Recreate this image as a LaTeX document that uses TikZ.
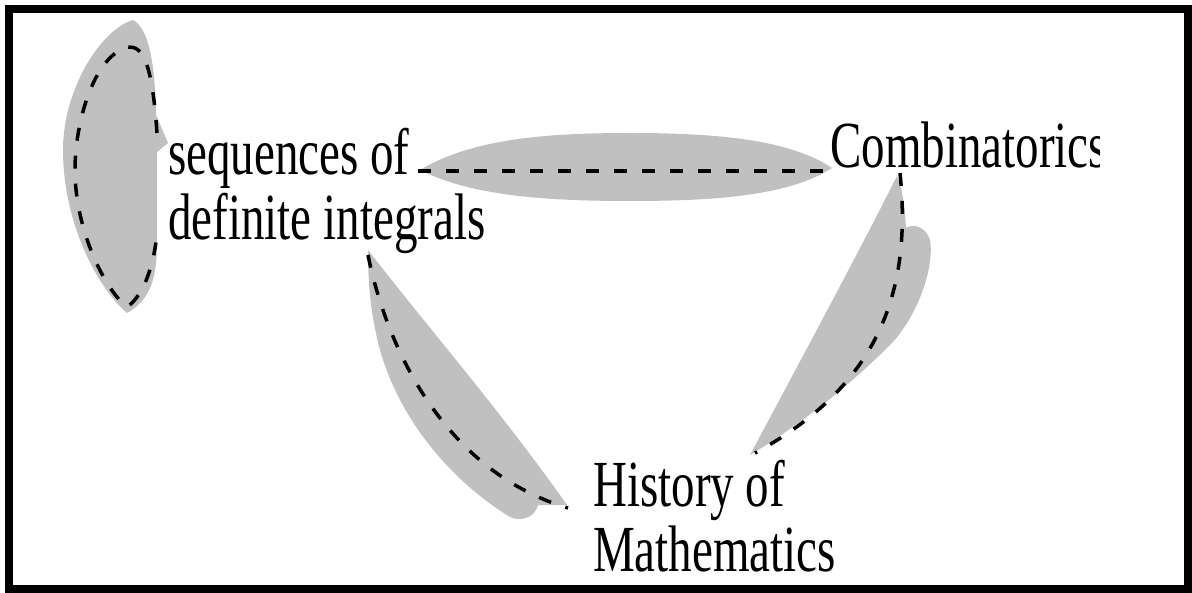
\documentclass[tikz,border=0pt]{standalone}
\usepackage{fontspec}
\setmainfont{Liberation Serif}
\usepackage{graphicx}
\definecolor{blobgray}{RGB}{192,192,192}
\tikzset{
  lbl/.style={inner sep=0pt, anchor=base west, font=\fontsize{47}{44}\selectfont},
  link/.style={line width=3.5pt, dash pattern=on 13pt off 15pt, line cap=butt},
  blob/.style={fill=blobgray, draw=none},
  frame/.style={line width=8pt, draw=black},
}
\newcommand{\stretchedtext}[1]{\scalebox{1}[1.4]{\begin{tabular}[t]{@{}l@{}}#1\end{tabular}}}
\begin{document}
\begin{tikzpicture}[x=1pt,y=-1pt]
\useasboundingbox (0,0) rectangle (1192,593);
\fill[white] (0,0) rectangle (1192,593);

% gray blobs
\fill[blob] (133,20) .. controls (100,30) and (63,90) .. (63,150)
  .. controls (63,220) and (95,285) .. (127,313)
  .. controls (150,300) and (157,280) .. (157,240) -- (157,152) -- (168,143) -- (156,115)
  .. controls (155,60) and (148,28) .. (133,20) -- cycle;
\fill[blob] (420,170) .. controls (470,140) and (540,133) .. (630,133)
  .. controls (720,133) and (790,140) .. (832,168)
  .. controls (790,195) and (720,201) .. (630,201)
  .. controls (540,201) and (470,195) .. (420,170) -- cycle;
\fill[blob] (368,250) .. controls (430,330) and (500,410) .. (567,505)
  -- (538,505) .. controls (535,518) and (520,522) .. (510,517)
  .. controls (450,480) and (400,420) .. (380,350)
  .. controls (372,320) and (368,290) .. (368,250) -- cycle;
\fill[blob] (897,176) .. controls (903,190) and (905,210) .. (906,228)
  .. controls (912,224) and (925,225) .. (930,240)
  .. controls (935,270) and (915,320) .. (890,345)
  .. controls (850,385) and (800,425) .. (750,455)
  .. controls (790,380) and (860,250) .. (897,176) -- cycle;

% labels
\node[lbl] (seq) at (168,175) {\stretchedtext{sequences of\\definite integrals}};
\begin{scope}
  \clip (0,0) rectangle (1099,593);
  \node[lbl] (comb) at (830,168) {\stretchedtext{Combinatorics}};
\end{scope}
\node[lbl] (hist) at (593,507) {\stretchedtext{History of\\Mathematics}};

% connector end points
\coordinate (seqLoopOut) at (157,133);
\coordinate (seqLoopIn) at (157,232);
\coordinate (seqRight) at (418,171);
\coordinate (seqBelow) at (368,255);
\coordinate (combLeft) at (830,171);
\coordinate (combBelow) at (900,173);
\coordinate (histLeft) at (568,508);
\coordinate (histAbove) at (755,453);

% dashed connectors
\draw[link] (seqLoopOut) .. controls (152,60) and (142,46) .. (128,47)
  .. controls (95,55) and (75,120) .. (75,170)
  .. controls (75,230) and (105,290) .. (127,307)
  .. controls (145,295) and (155,260) .. (seqLoopIn);
\draw[link] (seqRight) -- (combLeft);
\draw[link] (seqBelow) .. controls (385,340) and (440,470) .. (histLeft);
\draw[link] (combBelow) .. controls (912,290) and (880,385) .. (histAbove);

% frame
\draw[frame] (9,9) rectangle (1188,589);
\end{tikzpicture}
\end{document}
